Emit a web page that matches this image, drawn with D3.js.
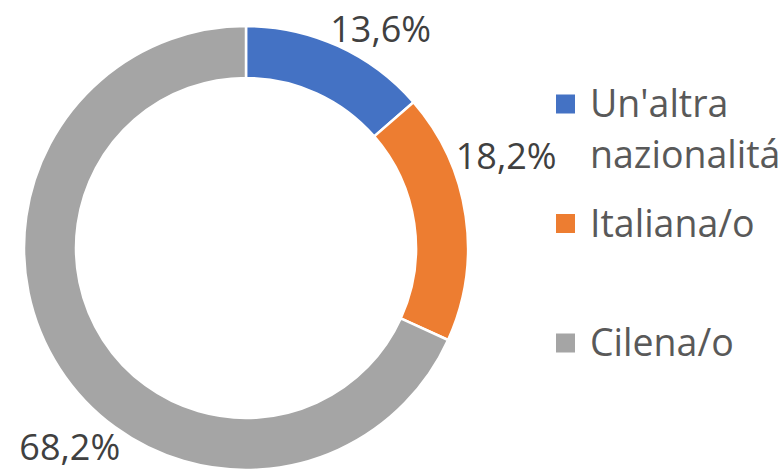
<!DOCTYPE html>
<html>
<head>
<meta charset="utf-8">
<script src="https://cdn.jsdelivr.net/npm/d3@7"></script>
<style>
  html, body { margin: 0; padding: 0; background: #fff; overflow: hidden; }
  svg { display: block; font-family: "Open Sans", "Noto Sans", sans-serif; }
</style>
</head>
<body>
<div id="chart"></div>
<script>
// data
const categories = ["Un'altra nazionalitá", 'Italiana/o', 'Cilena/o'];
const legendLines = [["Un'altra", 'nazionalitá'], ['Italiana/o'], ['Cilena/o']];
const values = [13.6, 18.2, 68.2];
const labels = ['13,6%', '18,2%', '68,2%'];
const colors = ['#4472C4', '#ED7D31', '#A5A5A5'];

const width = 782;
const height = 469;
const cx = 246, cy = 248;
const outerR = 222, innerR = 170;

// where excel put each data label: angle from top (deg) and distance from centre
const labelSpots = [[31.6, 257], [70.5, 276], [221.5, 266]];

const svg = d3.select('#chart')
  .append('svg')
  .attr('width', width)
  .attr('height', height);

const pie = d3.pie()
  .sort(null)
  .value(d => d);

const arc = d3.arc()
  .innerRadius(innerR)
  .outerRadius(outerR);

const g = svg.append('g')
  .attr('transform', 'translate(' + cx + ',' + cy + ')');

g.selectAll('.slice')
  .data(pie(values))
  .enter().append('path')
  .attr('class', 'slice')
  .attr('d', arc)
  .attr('fill', (d, i) => colors[i])
  .attr('stroke', '#fff')
  .attr('stroke-width', 2.5);

// data labels
g.selectAll('.lbl')
  .data(labels)
  .enter().append('text')
  .attr('class', 'lbl')
  .attr('x', (d, i) => Math.sin(labelSpots[i][0] * Math.PI / 180) * labelSpots[i][1])
  .attr('y', (d, i) => -Math.cos(labelSpots[i][0] * Math.PI / 180) * labelSpots[i][1])
  .attr('dy', '0.36em')
  .attr('text-anchor', 'middle')
  .style('font-size', '36px')
  .style('fill', '#404040')
  .text(d => d);

// legend
const rowY = d3.scalePoint()
  .domain(categories)
  .range([104, 343]);

const legend = svg.selectAll('.legend')
  .data(categories)
  .enter().append('g')
  .attr('class', 'legend')
  .attr('transform', d => 'translate(556,' + rowY(d) + ')');

legend.append('rect')
  .attr('x', 0)
  .attr('y', -9.5)
  .attr('width', 19)
  .attr('height', 19)
  .attr('fill', (d, i) => colors[i]);

legend.append('text')
  .attr('x', 34)
  .attr('y', 13)
  .style('font-size', '37.5px')
  .style('fill', '#595959')
  .selectAll('tspan')
  .data((d, i) => legendLines[i])
  .enter().append('tspan')
  .attr('x', 34)
  .attr('dy', (d, j) => j === 0 ? 0 : 51)
  .text(d => d);
</script>
</body>
</html>
